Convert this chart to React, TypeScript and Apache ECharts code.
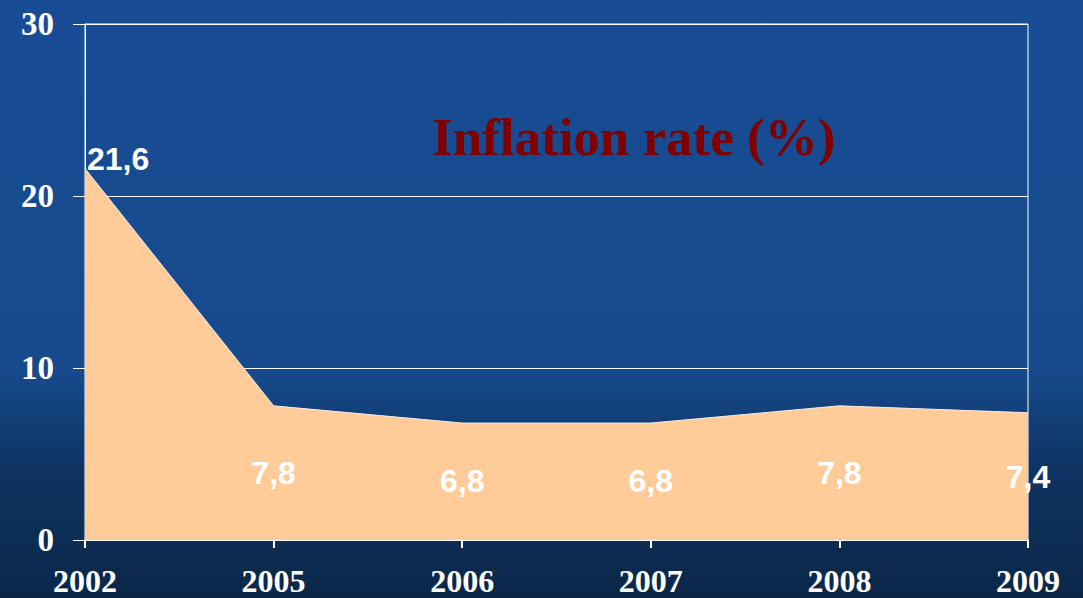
import React, { useEffect, useRef } from "react";
import * as echarts from "echarts";

const years = ["2002", "2005", "2006", "2007", "2008", "2009"];
const inflation = [21.6, 7.8, 6.8, 6.8, 7.8, 7.4];
const labelTexts = ["21,6", "7,8", "6,8", "6,8", "7,8", "7,4"];
const labelDistances = [0, 51, 42, 42, 51, 48];
const yTicks = [0, 10, 20, 30];

export default function App() {
  const ref = useRef<HTMLDivElement>(null);
  useEffect(() => {
    if (!ref.current) return;
    const chart = echarts.init(ref.current, undefined, { renderer: "svg" });
    const data = inflation.map((v, i) => {
      if (i === 0) {
        return {
          value: v,
          label: {
            position: "right",
            offset: [-3, -9],
            formatter: labelTexts[i],
          },
        };
      }
      return {
        value: v,
        label: {
          position: "bottom",
          distance: labelDistances[i],
          formatter: labelTexts[i],
        },
      };
    });
    chart.setOption({
      animation: false,
      backgroundColor: {
        type: "linear",
        x: 0,
        y: 0,
        x2: 0,
        y2: 1,
        colorStops: [
          { offset: 0, color: "#184d95" },
          { offset: 0.62, color: "#174a8c" },
          { offset: 0.78, color: "#0f3464" },
          { offset: 1, color: "#0a2747" },
        ],
      },
      title: {
        text: "Inflation rate (%)",
        left: 427,
        top: 105,
        textStyle: {
          color: "#800000",
          fontFamily: "Liberation Serif",
          fontWeight: "bold",
          fontSize: 53,
          textShadowColor: "#c8c0c0",
          textShadowOffsetX: 2,
          textShadowOffsetY: 2,
          textShadowBlur: 0,
        },
      },
      grid: {
        left: 85,
        right: 55,
        top: 24,
        bottom: 58,
        show: true,
        borderColor: "#ffffff",
        borderWidth: 1,
        backgroundColor: "transparent",
      },
      xAxis: {
        type: "category",
        data: years,
        boundaryGap: false,
        axisLine: { lineStyle: { color: "#ffffff", width: 2 } },
        axisTick: { show: true, length: 8, lineStyle: { color: "#ffffff", width: 2 } },
        axisLabel: {
          color: "#ffffff",
          fontFamily: "Liberation Serif",
          fontWeight: "bold",
          fontSize: 32,
          margin: 25,
        },
        splitLine: { show: false },
      },
      yAxis: {
        type: "value",
        min: yTicks[0],
        max: yTicks[yTicks.length - 1],
        interval: 10,
        axisLine: { show: true, lineStyle: { color: "#ffffff", width: 1 } },
        axisTick: { show: true, length: 12, lineStyle: { color: "#ffffff" } },
        axisLabel: {
          color: "#ffffff",
          fontFamily: "Liberation Serif",
          fontWeight: "bold",
          fontSize: 33,
          margin: 31,
        },
        splitLine: { show: true, lineStyle: { color: "#ffffff", width: 1 } },
      },
      series: [
        {
          type: "line",
          data,
          symbol: "circle",
          symbolSize: 0,
          showSymbol: true,
          lineStyle: { color: "#f4efe6", width: 1 },
          itemStyle: { color: "#ffcc99" },
          areaStyle: { color: "#ffcc99", opacity: 1 },
          label: {
            show: true,
            color: "#ffffff",
            fontFamily: "Liberation Sans",
            fontWeight: "bold",
            fontSize: 32,
          },
          z: 1,
        },
      ],
    });
    return () => chart.dispose();
  }, []);
  return (
    <div
      ref={ref}
      style={{ position: "fixed", left: 0, top: 0, width: 1083, height: 598 }}
    />
  );
}
